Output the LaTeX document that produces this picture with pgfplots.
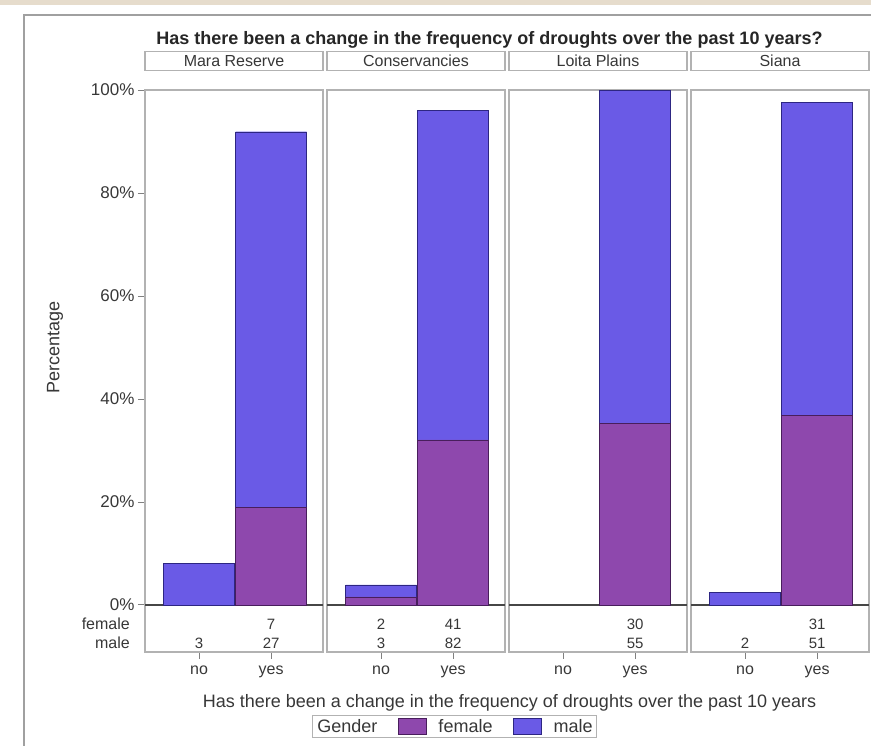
\documentclass[border=0pt]{standalone}
\usepackage{fontspec}
\setmainfont{Liberation Sans}
\usepackage{pgfplots}
\pgfplotsset{compat=1.18}
\usepgfplotslibrary{groupplots}

\definecolor{fem}{RGB}{142,72,173}
\definecolor{femedge}{RGB}{72,30,92}
\definecolor{mal}{RGB}{106,90,230}
\definecolor{maledge}{RGB}{45,38,130}
\definecolor{framegray}{RGB}{178,178,178}
\definecolor{zeroline}{RGB}{70,70,70}
\definecolor{txt}{RGB}{55,55,55}
\definecolor{beige}{RGB}{230,220,204}

\newcommand{\fs}[1]{\fontsize{#1}{#1}\selectfont}
\pgfplotsset{swatch/.style={legend image code/.code={\draw[##1] (0pt,-8pt) rectangle (28pt,8pt);}}}
\newcommand{\cnt}[3]{\node[font=\fs{15}, text=txt, inner sep=0pt] at (axis cs:#1,#2) {#3};}

\begin{document}
\begin{tikzpicture}
\begin{groupplot}[
  group style={group size=4 by 1, horizontal sep=4pt},
  scale only axis, width=178pt, height=562pt,
  xmin=-0.75, xmax=1.72, ymin=-9.15, ymax=100,
  ybar stacked, /pgf/bar width=71pt,
  xtick={0,1}, xticklabels={no,yes},
  ytick={0,20,40,60,80,100},
  yticklabels={0\%,20\%,40\%,60\%,80\%,100\%},
  axis line style={draw=framegray, line width=2.5pt},
  tick align=outside, tick pos=left,
  major tick length=7pt,
  tick style={draw=gray, line width=0.8pt},
  x tick label style={font=\fs{16}, text=txt, yshift=-3pt},
  y tick label style={font=\fs{17}, text=txt},
  extra y ticks={0}, extra y tick labels={},
  extra y tick style={grid=major, major grid style={draw=zeroline, line width=1.6pt}, major tick length=0pt, tick style={draw=none}},
  title style={at={(0.5,1)}, anchor=south, yshift=13pt, draw=framegray, line width=1.2pt, minimum width=178pt, minimum height=19pt, inner sep=0pt, font=\fs{16}, text=txt},
  clip=false,
]
\nextgroupplot[title={Mara Reserve},
  legend style={at={(0.938,-0.1326)}, anchor=west, legend columns=-1, draw=framegray, line width=1pt, font=\fs{18}, text=txt, inner xsep=2pt, inner ysep=2pt,
    /tikz/every odd column/.append style={column sep=10pt},
    /tikz/every even column/.append style={column sep=18pt}}]
\addlegendimage{empty legend}\addlegendentry{\hspace{-9pt}Gender\hspace{14pt}}
\addplot[fill=fem, draw=femedge, swatch] coordinates {(0,0) (1,18.92)};
\addlegendentry{female}
\addplot[fill=mal, draw=maledge, swatch] coordinates {(0,8.11) (1,72.97)};
\addlegendentry{male}
\cnt{1}{-3.7}{7}
\cnt{0}{-7.4}{3}
\cnt{1}{-7.4}{27}
\node[anchor=east, inner sep=0pt, font=\fs{16}, text=txt] at ([xshift=-15pt]axis cs:-0.75,-3.7) {female};
\node[anchor=east, inner sep=0pt, font=\fs{16}, text=txt] at ([xshift=-15pt]axis cs:-0.75,-7.4) {male};
\node[rotate=90, font=\fs{18}, text=txt] at ([xshift=-90pt]axis cs:-0.75,50) {Percentage};

\nextgroupplot[title={Conservancies}, ytick=\empty]
\addplot[fill=fem, draw=femedge] coordinates {(0,1.56) (1,32.03)};
\addplot[fill=mal, draw=maledge] coordinates {(0,2.34) (1,64.06)};
\cnt{0}{-3.7}{2}
\cnt{1}{-3.7}{41}
\cnt{0}{-7.4}{3}
\cnt{1}{-7.4}{82}

\nextgroupplot[title={Loita Plains}, ytick=\empty]
\addplot[fill=fem, draw=femedge] coordinates {(0,0) (1,35.29)};
\addplot[fill=mal, draw=maledge] coordinates {(0,0) (1,64.71)};
\cnt{1}{-3.7}{30}
\cnt{1}{-7.4}{55}

\nextgroupplot[title={Siana}, ytick=\empty]
\addplot[fill=fem, draw=femedge] coordinates {(0,0) (1,36.90)};
\addplot[fill=mal, draw=maledge] coordinates {(0,2.38) (1,60.71)};
\cnt{1}{-3.7}{31}
\cnt{0}{-7.4}{2}
\cnt{1}{-7.4}{51}
\end{groupplot}

\begin{scope}[shift={(group c1r1.south west)}, x=1pt, y=1pt]
  \fill[beige] (-145,647) rectangle (726,652);
  \draw[framegray!90!black, line width=2pt] (726,637) -- (-121,637) -- (-121,-94);
  \node[font=\bfseries\fs{18}, text=black!85] at (344.5,612) {Has there been a change in the frequency of droughts over the past 10 years?};
  \node[font=\fs{18}, text=txt] at (364.5,-51) {Has there been a change in the frequency of droughts over the past 10 years};
\end{scope}
\pgfresetboundingbox
\path[use as bounding box] ([shift={(-145pt,-94pt)}]group c1r1.south west) rectangle ([shift={(726pt,652pt)}]group c1r1.south west);
\end{tikzpicture}
\end{document}
